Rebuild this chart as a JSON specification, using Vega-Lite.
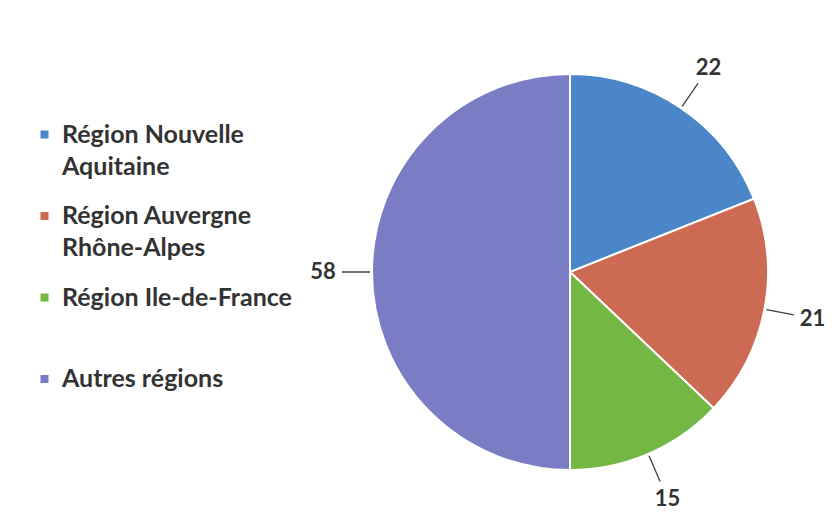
{
  "$schema": "https://vega.github.io/schema/vega-lite/v6.json",
  "width": 536,
  "height": 510,
  "autosize": {"type": "none"},
  "padding": {"left": 302, "top": 17, "right": 0, "bottom": 0},
  "background": "white",
  "config": {"view": {"stroke": null}, "style": {"guide-label": {"lineHeight": 32}}},
  "data": {
    "values": [
      {"region": "Région Nouvelle Aquitaine", "value": 22, "idx": 1},
      {"region": "Région Auvergne Rhône-Alpes", "value": 21, "idx": 2},
      {"region": "Région Ile-de-France", "value": 15, "idx": 3},
      {"region": "Autres régions", "value": 58, "idx": 4}
    ]
  },
  "transform": [
    {"window": [{"op": "sum", "field": "value", "as": "cum"}], "sort": [{"field": "idx"}], "frame": [null, 0]},
    {"calculate": "datum.cum - datum.value / 2", "as": "mid"}
  ],
  "encoding": {
    "order": {"field": "idx", "type": "quantitative"}
  },
  "layer": [
    {
      "mark": {"type": "arc", "outerRadius": 198, "stroke": "white", "strokeWidth": 2},
      "encoding": {
        "theta": {"field": "value", "type": "quantitative", "stack": true},
        "color": {
          "field": "region",
          "type": "nominal",
          "sort": null,
          "scale": {
            "domain": ["Région Nouvelle Aquitaine", "Région Auvergne Rhône-Alpes", "Région Ile-de-France", "Autres régions"],
            "range": ["#4a86c8", "#cd6a54", "#74b745", "#7b7dc4"]
          },
          "legend": {
            "orient": "none",
            "legendX": -270,
            "legendY": 105,
            "title": null,
            "symbolType": "square",
            "symbolSize": 64,
            "symbolStrokeWidth": 0,
            "labelFont": "Lato",
            "labelFontSize": 25,
            "labelFontWeight": "bold",
            "labelColor": "#333333",
            "labelLimit": 400,
            "labelOffset": 5,
            "gridAlign": "all",
            "rowPadding": 23.5,
            "labelExpr": "datum.label == 'Région Nouvelle Aquitaine' ? ['Région Nouvelle', 'Aquitaine'] : datum.label == 'Région Auvergne Rhône-Alpes' ? ['Région Auvergne', 'Rhône-Alpes'] : datum.label"
          }
        }
      }
    },
    {
      "mark": {"type": "arc", "radius": 200, "radius2": 228, "stroke": "#404040", "strokeWidth": 1.3, "fillOpacity": 0},
      "encoding": {
        "theta": {"field": "mid", "type": "quantitative", "stack": null},
        "theta2": {"field": "mid"}
      }
    },
    {
      "mark": {"type": "text", "radius": 247, "fontSize": 22, "fontWeight": "bold", "font": "Lato", "fill": "#333333"},
      "encoding": {
        "theta": {"field": "value", "type": "quantitative", "stack": true},
        "text": {"field": "value", "type": "quantitative"}
      }
    }
  ]
}
